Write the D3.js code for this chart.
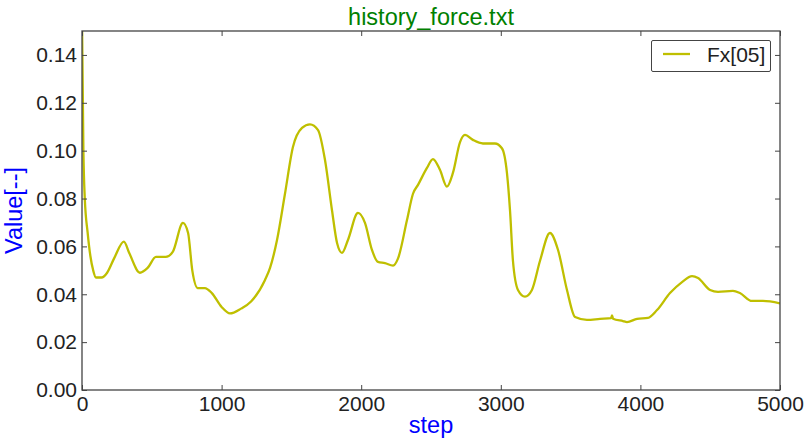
<!DOCTYPE html>
<html><head><meta charset="utf-8">
<script src="https://cdn.jsdelivr.net/npm/d3@7"></script>
<style>body{margin:0;background:#fff}svg{display:block}text{font-family:"Liberation Sans",Arial,sans-serif}</style>
</head><body><svg id="c" width="809" height="444"></svg>
<script>
const steps = [0,10,20,40,60,80,100,140,180,230,300,340,415,470,530,600,650,723,760,790,830,880,930,1000,1060,1139,1211,1311,1347,1397,1454,1511,1576,1633,1691,1741,1791,1827,1862,1905,1977,2027,2077,2120,2170,2228,2264,2328,2371,2407,2471,2514,2564,2614,2657,2708,2743,2800,2872,2958,3008,3044,3066,3087,3123,3173,3223,3281,3352,3410,3474,3532,3617,3711,3790,3797,3804,3875,3904,3976,4054,4119,4212,4298,4370,4413,4499,4556,4663,4713,4799,4878,5000];
const values = [0.155,0.10,0.080,0.066,0.056,0.050,0.047,0.047,0.049,0.055,0.062,0.057,0.049,0.051,0.0556,0.0556,0.0577,0.0698,0.0656,0.050,0.0426,0.0426,0.0405,0.0347,0.032,0.034,0.037,0.046,0.051,0.0627,0.082,0.1015,0.1095,0.111,0.1086,0.096,0.075,0.0614,0.0573,0.0627,0.074,0.0698,0.0585,0.0535,0.053,0.052,0.055,0.071,0.082,0.0857,0.0928,0.0965,0.092,0.085,0.0907,0.1036,0.1066,0.1045,0.103,0.103,0.101,0.0907,0.075,0.054,0.0418,0.039,0.0418,0.054,0.0656,0.0585,0.0418,0.0305,0.0293,0.0297,0.0300,0.0312,0.0298,0.0288,0.0284,0.0297,0.0301,0.0334,0.0405,0.0451,0.0476,0.0468,0.0418,0.041,0.0414,0.0405,0.0372,0.0372,0.0362];
const xTicks = [0,1000,2000,3000,4000,5000];
const yTicks = [0.00,0.02,0.04,0.06,0.08,0.10,0.12,0.14];
const seriesName = "Fx[05]";
const title = "history_force.txt", xLabel = "step", yLabel = "Value[--]";

const svg = d3.select("#c");
const L=82,R=780,T=31,B=390;
const x = d3.scaleLinear().domain([0,5000]).range([L,R]);
const y = d3.scaleLinear().domain([0,0.15]).range([B,T]);
const fs = "21px", fsL = "23.5px";
const ff = "Liberation Sans";

svg.append("clipPath").attr("id","cp").append("rect").attr("x",L).attr("y",T).attr("width",R-L).attr("height",B-T);
const data = steps.map((s,i)=>[s,values[i]]);
svg.append("path").datum(data).attr("clip-path","url(#cp)")
  .attr("fill","none").attr("stroke","#bfbf00").attr("stroke-width",2.3)
  .attr("d", d3.line().x(d=>x(d[0])).y(d=>y(d[1])).curve(d3.curveMonotoneX));

const tl=-5;
const gB = svg.append("g").attr("transform",`translate(0,${B})`).call(d3.axisBottom(x).tickValues(xTicks).tickSizeInner(tl).tickSizeOuter(0).tickPadding(6).tickFormat(d3.format("d")));
const gT = svg.append("g").attr("transform",`translate(0,${T})`).call(d3.axisTop(x).tickValues(xTicks).tickSizeInner(tl).tickSizeOuter(0).tickFormat(""));
const gL = svg.append("g").attr("transform",`translate(${L},0)`).call(d3.axisLeft(y).tickValues(yTicks).tickSizeInner(tl).tickSizeOuter(0).tickPadding(5).tickFormat(d3.format(".2f")));
const gR = svg.append("g").attr("transform",`translate(${R},0)`).call(d3.axisRight(y).tickValues(yTicks).tickSizeInner(tl).tickSizeOuter(0).tickFormat(""));
[gB,gT,gL,gR].forEach(g=>{
  g.select(".domain").remove();
  g.selectAll(".tick line").attr("stroke","#444");
  g.selectAll("text").attr("font-size",fs).attr("fill","#222").attr("font-family",ff);
});
svg.append("rect").attr("x",L).attr("y",T).attr("width",R-L).attr("height",B-T).attr("fill","none").attr("stroke","#444").attr("stroke-width",1.3);

svg.append("text").attr("x",(L+R)/2).attr("y",25).attr("text-anchor","middle").attr("font-size",fsL).attr("fill","#008000").text(title);
svg.append("text").attr("x",(L+R)/2).attr("y",433).attr("text-anchor","middle").attr("font-size",fsL).attr("fill","#0000ff").text(xLabel);
svg.append("text").attr("transform",`translate(22,${(T+B)/2}) rotate(-90)`).attr("text-anchor","middle").attr("font-size",fsL).attr("fill","#0000ff").text(yLabel);

const lg = svg.append("g");
lg.append("rect").attr("x",651.5).attr("y",40.5).attr("width",119).attr("height",31).attr("rx",1.5).attr("fill","#fff").attr("stroke","#444").attr("stroke-width",1);
lg.append("line").attr("x1",663).attr("x2",690).attr("y1",54).attr("y2",54).attr("stroke","#bfbf00").attr("stroke-width",2.3);
lg.append("text").attr("x",707).attr("y",62).attr("font-size",fs).attr("fill","#222").text(seriesName);
</script></body></html>
